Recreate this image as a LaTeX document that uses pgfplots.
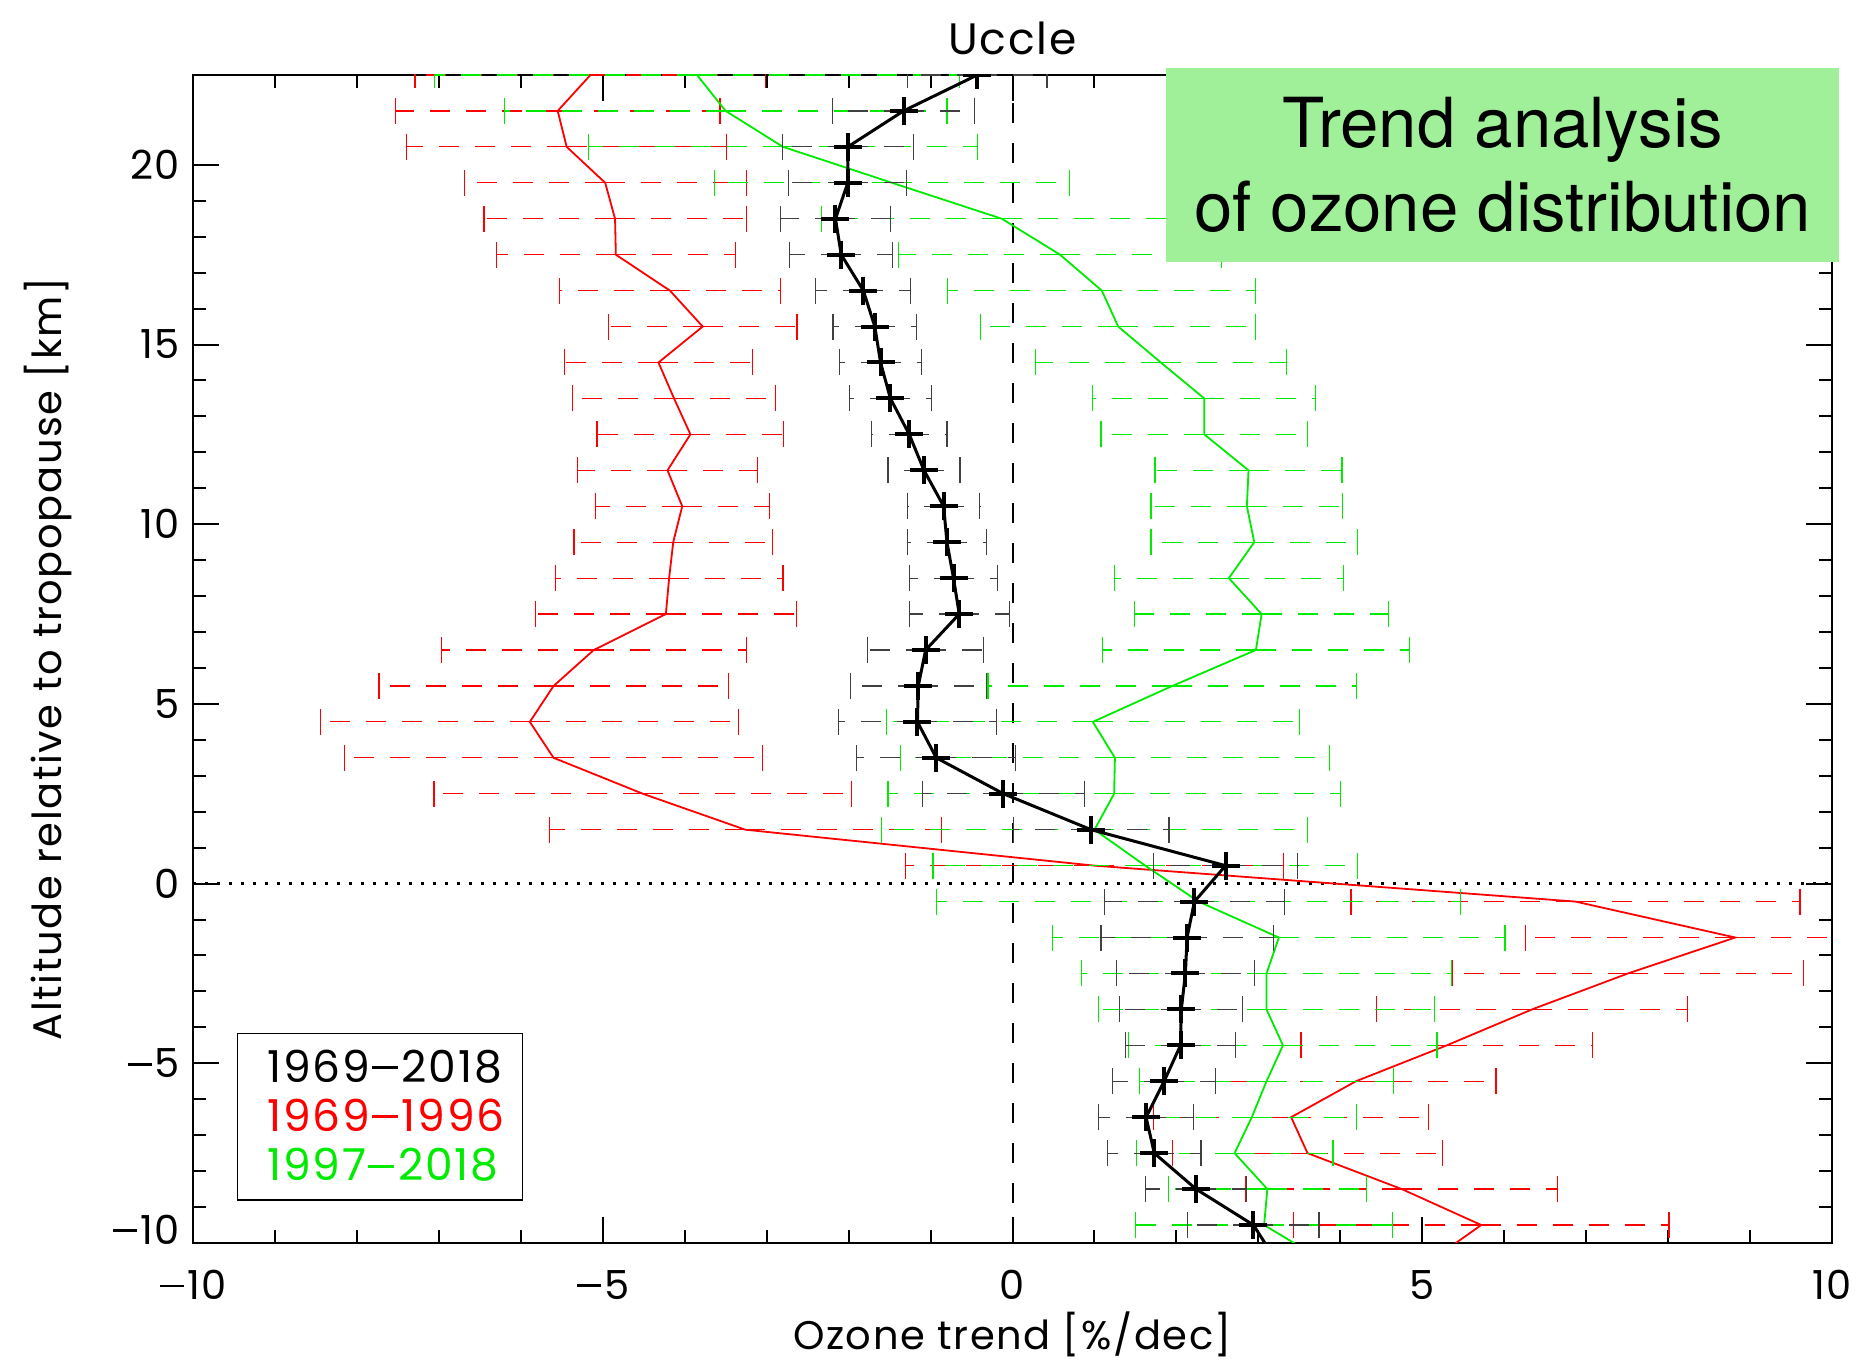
\documentclass[border=0pt]{standalone}
\usepackage{pgfplots}
\usepackage{pgfplotstable}
\pgfplotsset{compat=1.18}
\usetikzlibrary{calc}
\usepackage{fontspec}
\setmainfont{Poppins}
\newfontfamily\pop[LetterSpace=4]{Poppins}
\newfontfamily\hel{TeX Gyre Heros}
\definecolor{gr}{RGB}{0,235,0}
\definecolor{rd}{RGB}{255,0,0}
\definecolor{boxg}{RGB}{160,240,154}
\newcommand\mn{\kern0.04em\rule[0.3em]{0.6em}{0.07em}\kern0.08em}

\pgfplotstableread{
y x e
22.5 -0.43 0.85
21.5 -1.33 0.87
20.5 -2.01 0.80
19.5 -2.01 0.72
18.5 -2.16 0.67
17.5 -2.09 0.63
16.5 -1.82 0.58
15.5 -1.68 0.51
14.5 -1.61 0.50
13.5 -1.49 0.50
12.5 -1.26 0.46
11.5 -1.08 0.44
10.5 -0.84 0.44
9.5 -0.80 0.48
8.5 -0.72 0.54
7.5 -0.65 0.61
6.5 -1.06 0.71
5.5 -1.15 0.83
4.5 -1.16 0.96
3.5 -0.93 0.97
2.5 -0.11 0.99
1.5 0.96 0.95
0.5 2.60 0.88
-0.5 2.22 1.10
-1.5 2.13 1.05
-2.5 2.11 0.84
-3.5 2.06 0.75
-4.5 2.05 0.67
-5.5 1.85 0.63
-6.5 1.63 0.58
-7.5 1.73 0.57
-8.5 2.24 0.62
-9.5 2.94 0.80
-10.5 3.22 0.90
}\blk

\pgfplotstableread{
y x e
22.5 -5.15 2.14
21.5 -5.55 1.98
20.5 -5.44 1.95
19.5 -4.97 1.72
18.5 -4.85 1.60
17.5 -4.84 1.46
16.5 -4.18 1.35
15.5 -3.78 1.15
14.5 -4.32 1.15
13.5 -4.13 1.24
12.5 -3.93 1.14
11.5 -4.21 1.10
10.5 -4.03 1.06
9.5 -4.14 1.21
8.5 -4.19 1.39
7.5 -4.23 1.59
6.5 -5.11 1.86
5.5 -5.60 2.13
4.5 -5.89 2.55
3.5 -5.60 2.55
2.5 -4.51 2.55
1.5 -3.26 2.39
0.5 1.00 2.31
-0.5 6.87 2.74
-1.5 8.82 2.56
-2.5 7.51 2.14
-3.5 6.34 1.90
-4.5 5.30 1.78
-5.5 4.19 1.71
-6.5 3.40 1.68
-7.5 3.60 1.65
-8.5 4.75 1.90
-9.5 5.72 2.29
-10.5 5.10 2.30
}\red

\pgfplotstableread{
y x e
22.5 -3.85 3.20
21.5 -3.50 2.70
20.5 -2.80 2.37
19.5 -1.47 2.17
18.5 -0.13 2.20
17.5 0.58 1.97
16.5 1.09 1.88
15.5 1.29 1.68
14.5 1.81 1.53
13.5 2.34 1.36
12.5 2.34 1.26
11.5 2.88 1.14
10.5 2.86 1.17
9.5 2.95 1.26
8.5 2.64 1.40
7.5 3.04 1.55
6.5 2.97 1.87
5.5 1.95 2.25
4.5 0.98 2.52
3.5 1.25 2.62
2.5 1.24 2.76
1.5 1.00 2.60
0.5 1.62 2.59
-0.5 2.27 3.20
-1.5 3.25 2.76
-2.5 3.10 2.26
-3.5 3.10 2.05
-4.5 3.30 1.88
-5.5 3.10 1.55
-6.5 2.92 1.28
-7.5 2.71 1.20
-8.5 3.11 1.21
-9.5 3.07 1.57
-10.5 3.80 1.60
}\grn

\begin{document}
\begin{tikzpicture}
\begin{axis}[
  scale only axis, width=819.5pt, height=584pt,
  xmin=-10, xmax=10, ymin=-10, ymax=22.5,
  clip marker paths=true,
  axis line style={line width=1pt},
  tick style={line width=1pt, black},
  major tick length=13pt, minor tick length=6.5pt,
  xtick={-10,-5,0,5,10}, minor x tick num=4,
  ytick={-10,-5,0,5,10,15,20}, minor y tick num=4,
  xticklabels={\mn10,\mn5,0,5,10},
  yticklabels={\raisebox{13.5pt}{\mn10},\mn5,0,5,10,15,20},
  ticklabel style={font=\fontsize{20}{24}\pop},
  xticklabel style={yshift=-10pt},
  yticklabel style={xshift=-3pt},
  title={Uccle},
  title style={font=\fontsize{22}{26}\pop, at={(axis description cs:0.5,1.021)}, anchor=center},
  xlabel={Ozone trend [\%/dec]},
  xlabel style={font=\fontsize{20}{24}\pop, at={(axis description cs:0.5,-0.078)}, anchor=center},
  ylabel={Altitude relative to tropopause [km]},
  ylabel style={font=\fontsize{20}{24}\pop, at={(axis description cs:-0.0887,0.5)}, anchor=center},
  legend style={at={(0.0268,0.1798)}, anchor=north west, draw=black, line width=0.6pt,
    font=\fontsize{22}{26}\pop, inner xsep=7pt, inner ysep=6pt, row sep=3pt},
  legend cell align=left,
]
\addlegendimage{empty legend}\addlegendentry{\hspace{6pt}1969\mn2018}
\addlegendimage{empty legend}\addlegendentry{\hspace{6pt}\textcolor{rd}{1969\mn1996}}
\addlegendimage{empty legend}\addlegendentry{\hspace{6pt}\textcolor{gr}{1997\mn2018}}

\draw[black, line width=1pt, dash pattern=on 10pt off 10pt] (axis cs:0,-10) -- (axis cs:0,22.5);
\draw[black, line width=1.3pt, dash pattern=on 1.5pt off 4.5pt] (axis cs:-10,0) -- (axis cs:10,0);

\addplot[forget plot, rd, line width=0.9pt, mark=none,
  error bars/.cd, x dir=both, x explicit, error mark=|,
  error bar style={rd, line width=0.6pt, dash pattern=on 10pt off 8pt},
  error mark options={solid, rd, line width=0.6pt, mark size=6.5pt}]
  table[x=x, y=y, x error=e] {\red};
\addplot[forget plot, gr, line width=0.9pt, mark=none,
  error bars/.cd, x dir=both, x explicit, error mark=|,
  error bar style={gr, line width=0.6pt, dash pattern=on 10pt off 8pt},
  error mark options={solid, gr, line width=0.6pt, mark size=6.5pt}]
  table[x=x, y=y, x error=e] {\grn};
\addplot[forget plot, black, line width=1.5pt, line join=round, mark=+,
  mark options={line width=2pt, mark size=7pt},
  error bars/.cd, x dir=both, x explicit, error mark=|,
  error bar style={black!75, line width=0.6pt, dash pattern=on 10pt off 8pt},
  error mark options={solid, black!75, line width=0.6pt, mark size=6.5pt}]
  table[x=x, y=y, x error=e] {\blk};

\coordinate (O) at (rel axis cs:0,0);
\coordinate (bA) at (rel axis cs:0.5937,0.840);
\coordinate (bB) at (rel axis cs:1.0043,1.006);
\end{axis}
\fill[boxg] (bA) rectangle (bB);
\node[align=center, font=\fontsize{34.5}{41.6}\hel, inner sep=0pt] at ($ (bA)!0.5!(bB) $) {Trend analysis\\of ozone distribution};
\pgfresetboundingbox
\path[use as bounding box] (O) ++(-96.5pt,-58.5pt) rectangle ++(932pt,680pt);
\end{tikzpicture}
\end{document}
